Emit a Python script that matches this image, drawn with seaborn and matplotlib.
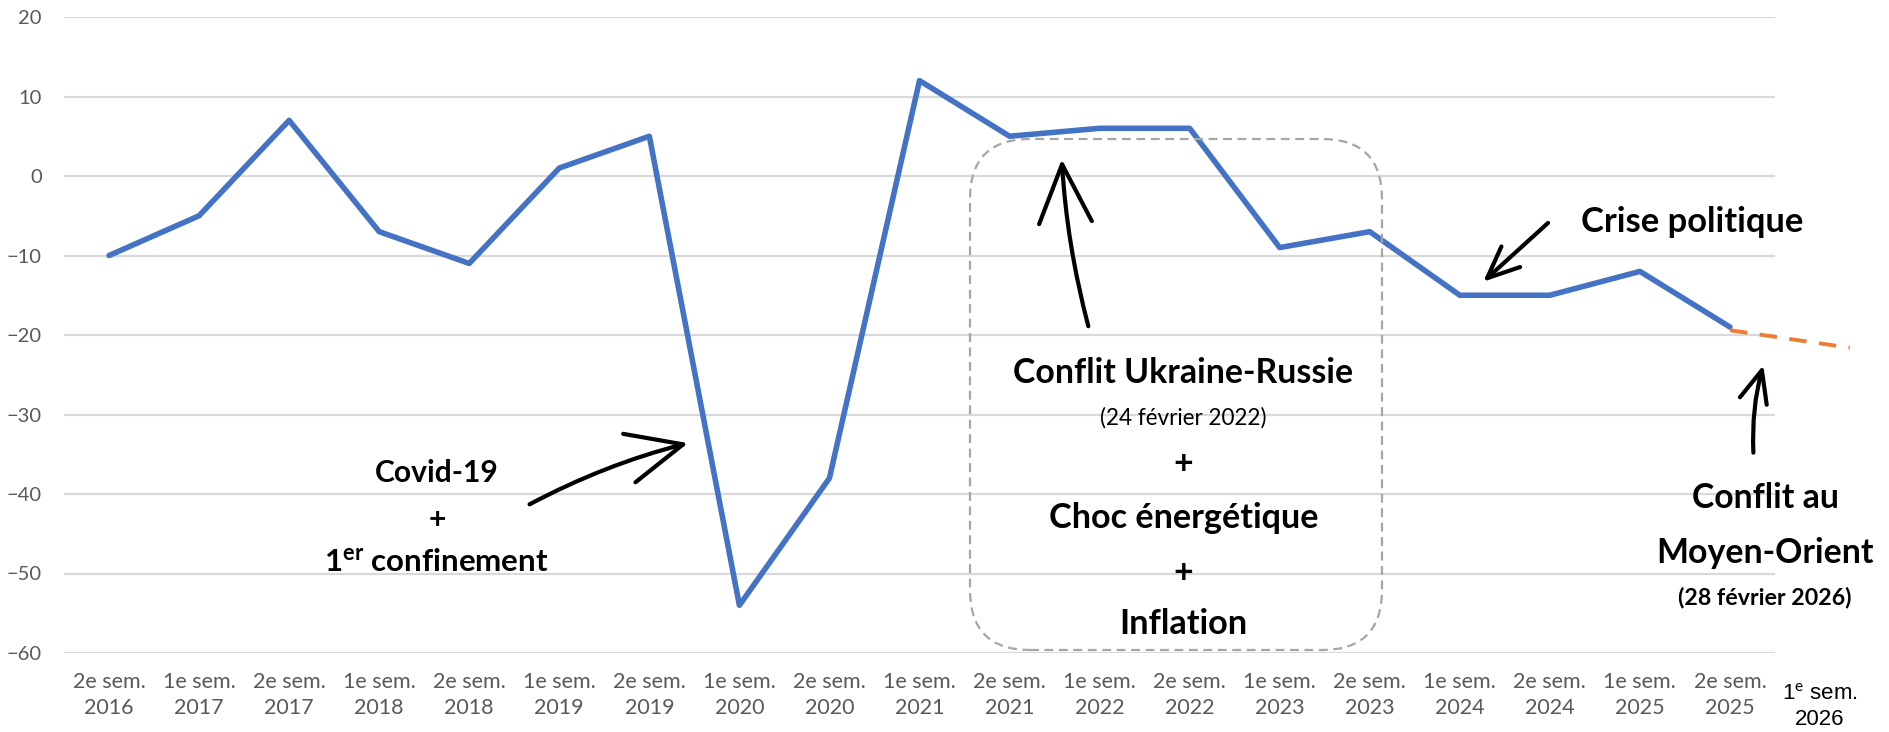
import numpy as np
import pandas as pd
import matplotlib
matplotlib.use("Agg")
import matplotlib.pyplot as plt
from matplotlib.patches import FancyBboxPatch
import seaborn as sns

# Données (solde d'opinion par semestre)
semestres = ["2e sem.", "1e sem.", "2e sem.", "1e sem.", "2e sem.", "1e sem.", "2e sem.",
             "1e sem.", "2e sem.", "1e sem.", "2e sem.", "1e sem.", "2e sem.", "1e sem.",
             "2e sem.", "1e sem.", "2e sem.", "1e sem.", "2e sem."]
annees = ["2016", "2017", "2017", "2018", "2018", "2019", "2019", "2020", "2020", "2021",
          "2021", "2022", "2022", "2023", "2023", "2024", "2024", "2025", "2025"]
solde = [-10, -5, 7, -7, -11, 1, 5, -54, -38, 12, 5, 6, 6, -9, -7, -15, -15, -12, -19]

# prolongation (estimation) vers le 1er sem. 2026
proj_pos = [18, 19.33]
proj_val = [-19.4, -21.6]

sns.set_theme(style="white")
plt.rcParams["font.family"] = ["Lato", "DejaVu Sans"]
plt.rcParams["mathtext.fontset"] = "custom"
plt.rcParams["mathtext.rm"] = "Lato"
plt.rcParams["mathtext.bf"] = "Lato:bold"

fig = plt.figure(figsize=(18.9, 7.32), dpi=100)
ax = fig.add_axes([64 / 1890, 1 - 653 / 732, (1775 - 64) / 1890, (653 - 17) / 732])

df = pd.DataFrame({"pos": np.arange(len(solde)), "solde": solde})
sns.lineplot(data=df, x="pos", y="solde", color="#4472C4", lw=4.0, ax=ax, zorder=3)

proj = pd.DataFrame({"pos": proj_pos, "solde": proj_val})
sns.lineplot(data=proj, x="pos", y="solde", color="#ED7D31", lw=2.8, ax=ax,
             linestyle=(0, (4.5, 3.2)), clip_on=False, zorder=3)

# axes
ax.set_xlim(-0.5, 18.5)
ax.set_ylim(-60, 20)
ax.set_yticks(range(-60, 21, 10))
ax.yaxis.grid(True, color="#D9D9D9", lw=1.6)
ax.xaxis.grid(False)
ax.set_axisbelow(True)
ax.set_xticks(df["pos"])
ax.set_xticklabels([f"{s}\n{a}" for s, a in zip(semestres, annees)], linespacing=1.35)
ax.tick_params(axis="x", length=0, pad=14, labelsize=15.5, labelcolor="#595959")
ax.tick_params(axis="y", length=0, pad=16, labelsize=14.5, labelcolor="#595959")
ax.set_xlabel("")
ax.set_ylabel("")
sns.despine(ax=ax, left=True, bottom=True)

# libellé hors axe pour 2026
ax.text(19, -66.8, "1$^{\\mathrm{e}}$ sem.\n2026", ha="center", va="center",
        family=["Liberation Sans", "DejaVu Sans"], fontsize=16, color="black",
        linespacing=1.25, clip_on=False)

# cadre pointillé arrondi
box = FancyBboxPatch((9.70, 0.82), 4.12, 5.11, boxstyle="round,pad=0,rounding_size=0.6",
                     transform=fig.dpi_scale_trans, fill=False, ec="#A6A6A6",
                     lw=1.6, ls=(0, (4, 2.5)), zorder=2)
fig.add_artist(box)

renderer = fig.canvas.get_renderer()


def txt(x, y, s, largeur=None, size=20, weight="bold"):
    # largeur : largeur visée du texte en pixels (ajuste la taille de police)
    t = ax.text(x, y, s, ha="center", va="center", fontsize=size, fontweight=weight,
                color="black", clip_on=False, zorder=5)
    if largeur:
        w = t.get_window_extent(renderer).width
        t.set_fontsize(size * largeur / w)
    return t.get_fontsize()


def fleche(tail, tip, hl, hw, rad=0.0):
    ax.annotate("", xy=tip, xytext=tail, annotation_clip=False,
                arrowprops=dict(arrowstyle=f"->,head_length={hl},head_width={hw}",
                                mutation_scale=20, lw=3, color="black",
                                shrinkA=0, shrinkB=0, capstyle="round",
                                connectionstyle=f"arc3,rad={rad}"))


# Covid
fs = txt(3.64, -37.4, "Covid-19", 124)
txt(3.64, -43.3, "+", size=fs)
txt(3.64, -48.7, "1$^{\\mathbf{er}}$ confinement", 225)
fleche((4.67, -41.3), (6.43, -33.6), 2.0, 0.9, rad=-0.06)

# Ukraine
fs = txt(11.93, -24.8, "Conflit Ukraine-Russie", 341)
txt(11.93, -30.4, "(24 février 2022)", 167, weight="normal")
txt(11.93, -36.2, "+", size=fs)
txt(11.93, -43.0, "Choc énergétique", 269)
txt(11.93, -49.9, "+", size=fs)
txt(11.93, -56.4, "Inflation", 128)
fleche((10.875, -18.9), (10.58, 2.1), 2.1, 0.95, rad=-0.05)

# Crise politique
txt(17.58, -5.8, "Crise politique", 223)
fleche((15.98, -5.9), (15.26, -13.3), 1.15, 0.5, rad=0.0)

# Moyen-Orient
txt(18.39, -40.5, "Conflit au", 147)
txt(18.39, -47.4, "Moyen-Orient", 218)
txt(18.39, -53.0, "(28 février 2026)", 173)
fleche((18.26, -34.8), (18.37, -23.8), 1.15, 0.5, rad=-0.08)

fig.savefig("out.png", dpi=100)
